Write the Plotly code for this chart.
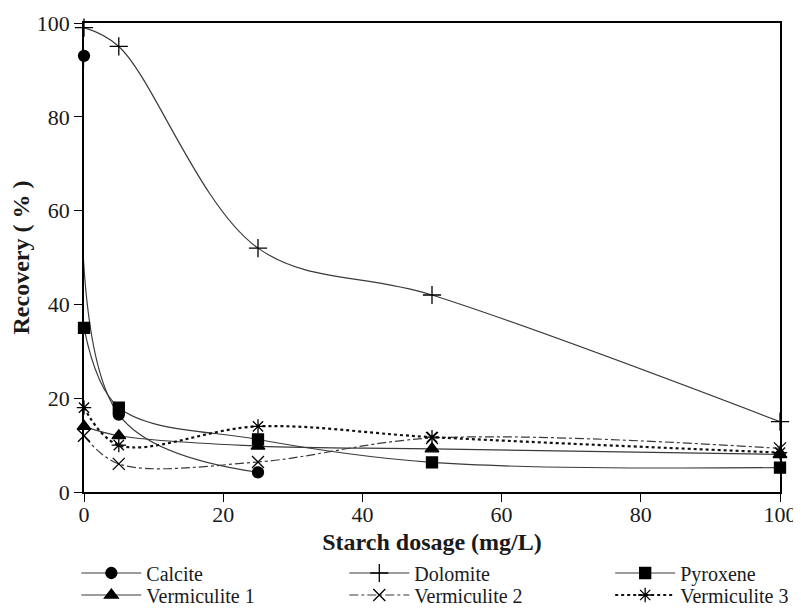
import plotly.graph_objects as go

# ---- data ----
dosage = [0, 5, 25, 50, 100]
calcite_x = [0, 5, 25]
calcite = [93, 16.5, 4.2]
dolomite = [99, 95, 52, 42, 15]
pyroxene = [35, 18, 11.2, 6.3, 5.2]
verm1 = [14, 12, 9.8, 9.2, 8.0]
verm2 = [12, 6.0, 6.4, 11.5, 9.3]
verm3 = [18, 10, 14, 11.7, 8.4]

x_ticks = [0, 20, 40, 60, 80, 100]
y_ticks = [0, 20, 40, 60, 80, 100]

FONT = "Liberation Serif, Times New Roman, serif"
TXT = "#1a1a1a"
LINE = "#3a3a3a"

series = [
    ("Calcite", calcite_x, calcite, "circle", 11, "solid"),
    ("Dolomite", dosage, dolomite, "cross-thin", 13, "solid"),
    ("Pyroxene", dosage, pyroxene, "square", 11, "solid"),
    ("Vermiculite 1", dosage, verm1, "triangle-up", 12, "solid"),
    ("Vermiculite 2", dosage, verm2, "x-thin", 12, "dashdot"),
    ("Vermiculite 3", dosage, verm3, "asterisk", 12, "dot"),
]

# legend slots: 3 columns x 2 rows (paper coords)
leg_x = [-0.011, 0.374, 0.756]
leg_y = [-0.1727, -0.2196]

fig = go.Figure()
legend_layout = {}
for i, (name, xs, ys, sym, size, dash) in enumerate(series):
    lw = 2.2 if dash == "dot" else 1.2
    key = "legend" if i == 0 else f"legend{i+1}"
    fig.add_trace(go.Scatter(
        x=xs, y=ys, name=name, mode="lines+markers",
        line=dict(color=LINE if dash != "dot" else "#111", width=lw, dash=dash,
                  shape="spline", smoothing=1.0),
        marker=dict(symbol=sym, size=size, color="black",
                    line=dict(color="black", width=1.3)),
        cliponaxis=False, legend=key, showlegend=True,
    ))
    legend_layout[key] = dict(
        orientation="h", x=leg_x[i % 3], y=leg_y[i // 3],
        xanchor="left", yanchor="middle",
        font=dict(family=FONT, size=20, color=TXT),
        itemwidth=60, bgcolor="rgba(0,0,0,0)", borderwidth=0,
    )

axis_common = dict(
    showline=True, linecolor="black", linewidth=1.5, mirror=True,
    ticks="outside", ticklen=8, tickwidth=1.3, tickcolor="black",
    showgrid=False, zeroline=False, automargin=False,
    tickfont=dict(family=FONT, size=22, color=TXT),
)

# the page body has an 8px margin, so the figure is 8px smaller and shifted
fig.update_layout(
    width=793, height=598,
    showlegend=True,
    paper_bgcolor="white", plot_bgcolor="white",
    margin=dict(l=76, r=21, t=15, b=114, autoexpand=False),
    font=dict(family=FONT, color=TXT),
    xaxis=dict(range=[0, 100], tickvals=x_ticks, ticklabelstandoff=-6,
               title=dict(text="<b>Starch dosage (mg/L)</b>",
                          font=dict(family=FONT, size=24, color=TXT), standoff=7),
               **axis_common),
    yaxis=dict(range=[0, 100], tickvals=y_ticks,
               title=dict(text="<b>Recovery ( % )</b>",
                          font=dict(family=FONT, size=24, color=TXT), standoff=2),
               **axis_common),
    **legend_layout,
)

fig.write_html("out.html")
